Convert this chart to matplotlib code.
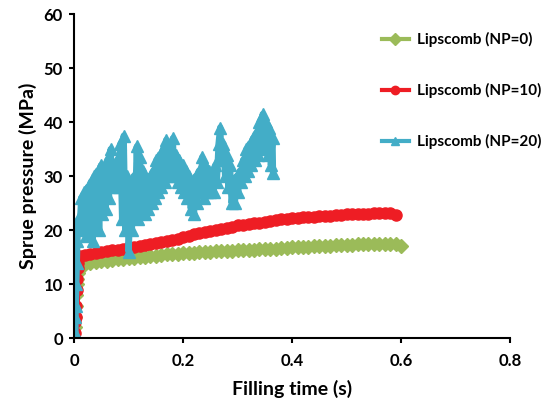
import matplotlib.pyplot as plt

# filling time (s) and sprue pressure (MPa)
t_np0 = [0, 0.001, 0.002, 0.003, 0.004, 0.005, 0.006, 0.007, 0.008, 0.009,
         0.01, 0.02, 0.03, 0.04, 0.05, 0.06, 0.07, 0.08, 0.09, 0.10,
         0.11, 0.12, 0.13, 0.14, 0.15, 0.16, 0.17, 0.18, 0.19, 0.20,
         0.21, 0.22, 0.23, 0.24, 0.25, 0.26, 0.27, 0.28, 0.29, 0.30,
         0.31, 0.32, 0.33, 0.34, 0.35, 0.36, 0.37, 0.38, 0.39, 0.40,
         0.41, 0.42, 0.43, 0.44, 0.45, 0.46, 0.47, 0.48, 0.49, 0.50,
         0.51, 0.52, 0.53, 0.54, 0.55, 0.56, 0.57, 0.58, 0.59, 0.60]
p_np0 = [0, 2, 4, 6, 8, 10, 11, 12, 12.5, 13,
         13.4, 13.7, 13.9, 14.1, 14.2, 14.3, 14.4, 14.6, 14.7, 14.8,
         14.9, 15.0, 15.1, 15.2, 15.3, 15.4, 15.5, 15.5, 15.6, 15.7,
         15.8, 15.8, 15.9, 16.0, 16.0, 16.1, 16.1, 16.2, 16.2, 16.3,
         16.3, 16.4, 16.4, 16.5, 16.5, 16.6, 16.6, 16.7, 16.7, 16.8,
         16.8, 16.9, 16.9, 17.0, 17.0, 17.1, 17.1, 17.2, 17.2, 17.3,
         17.3, 17.4, 17.4, 17.4, 17.5, 17.5, 17.5, 17.5, 17.4, 17.0]

t_np10 = [0, 0.001, 0.002, 0.003, 0.004, 0.005, 0.006, 0.007, 0.008, 0.009,
          0.01, 0.02, 0.03, 0.04, 0.05, 0.06, 0.07, 0.08, 0.09, 0.10,
          0.11, 0.12, 0.13, 0.14, 0.15, 0.16, 0.17, 0.18, 0.19, 0.20,
          0.21, 0.22, 0.23, 0.24, 0.25, 0.26, 0.27, 0.28, 0.29, 0.30,
          0.31, 0.32, 0.33, 0.34, 0.35, 0.36, 0.37, 0.38, 0.39, 0.40,
          0.41, 0.42, 0.43, 0.44, 0.45, 0.46, 0.47, 0.48, 0.49, 0.50,
          0.51, 0.52, 0.53, 0.54, 0.55, 0.56, 0.57, 0.58, 0.59]
p_np10 = [0, 3, 1, 4, 6, 9, 11, 13, 14, 15,
          15.3, 15.4, 15.6, 15.8, 16.0, 16.1, 16.3, 16.4, 16.6, 16.8,
          16.9, 17.1, 17.2, 17.4, 17.6, 17.8, 18.0, 18.2, 18.4, 18.7,
          18.9, 19.2, 19.4, 19.6, 19.8, 20.0, 20.2, 20.4, 20.6, 20.9,
          21.0, 21.1, 21.3, 21.4, 21.6, 21.7, 21.8, 22.0, 22.1, 22.2,
          22.3, 22.4, 22.4, 22.5, 22.6, 22.7, 22.7, 22.8, 22.8, 22.9,
          22.9, 23.0, 23.0, 23.0, 23.1, 23.1, 23.1, 23.1, 22.8]

t_np20 = [0, 0.001, 0.002, 0.003, 0.004, 0.005, 0.006, 0.008, 0.010, 0.013,
          0.016, 0.019, 0.022, 0.025, 0.028, 0.031, 0.034, 0.037, 0.040, 0.043,
          0.046, 0.049, 0.052, 0.055, 0.058, 0.061, 0.064, 0.067, 0.070, 0.073,
          0.076, 0.079, 0.082, 0.085, 0.088, 0.091, 0.094, 0.097, 0.100, 0.103,
          0.106, 0.109, 0.112, 0.115, 0.118, 0.121, 0.124, 0.127, 0.130, 0.133,
          0.136, 0.139, 0.142, 0.145, 0.148, 0.151, 0.154, 0.157, 0.160, 0.163,
          0.166, 0.169, 0.172, 0.175, 0.178, 0.181, 0.184, 0.187, 0.190, 0.193,
          0.196, 0.199, 0.202, 0.205, 0.208, 0.211, 0.214, 0.217, 0.220, 0.223,
          0.226, 0.229, 0.232, 0.235, 0.238, 0.241, 0.244, 0.247, 0.250, 0.253,
          0.256, 0.259, 0.262, 0.265, 0.268, 0.271, 0.274, 0.277, 0.280, 0.283,
          0.286, 0.289, 0.292, 0.295, 0.298, 0.301, 0.304, 0.307, 0.310, 0.313,
          0.316, 0.319, 0.322, 0.325, 0.328, 0.331, 0.334, 0.337, 0.340, 0.343,
          0.346, 0.349, 0.352, 0.355, 0.358, 0.361, 0.364, 0.365]
p_np20 = [0, 4, 1, 6, 10, 14, 18, 22, 20, 26,
          21, 27, 19, 28, 20, 29, 18, 30, 21, 31,
          20, 32, 23, 31, 24, 33, 26, 35, 28, 32,
          30, 33, 28, 36, 22, 37.5, 20, 30, 16, 24,
          20, 30, 24, 35.5, 22, 33.5, 24, 31, 23, 29,
          24, 30, 25, 31, 26, 33, 27, 34, 28, 35,
          29, 36.7, 30, 35, 31, 37, 30, 34, 29, 33,
          28, 32, 27, 31, 26, 30, 24, 29, 23, 30,
          25, 31, 27, 33.5, 26, 32, 27, 31, 27, 30,
          27, 32, 29, 36, 39, 33, 36, 30, 34, 28,
          32, 25, 28, 25, 30, 27, 31, 29, 33, 30,
          35, 31, 36, 32, 37, 33, 38, 34, 40, 35,
          41.5, 36, 40, 34, 39, 32, 37, 30.5]

labels = ['Lipscomb (NP=0)', 'Lipscomb (NP=10)', 'Lipscomb (NP=20)']
colors = ['#9BBB59', '#EE1D24', '#43ADC7']

plt.rcParams['font.family'] = ['Lato', 'DejaVu Sans']
plt.rcParams['font.weight'] = 'bold'

fig = plt.figure(figsize=(5.45, 4.04), dpi=100)
ax = fig.add_axes([0.136, 0.163, 0.800, 0.802])

ax.plot(t_np0, p_np0, color=colors[0], marker='D', ms=7, lw=5, label=labels[0])
ax.plot(t_np10, p_np10, color=colors[1], marker='o', ms=8, lw=5, label=labels[1])
ax.plot(t_np20, p_np20, color=colors[2], marker='^', ms=9, lw=4.5, label=labels[2])

ax.set_xlim(0, 0.8)
ax.set_ylim(0, 60)
ax.set_xticks([0, 0.2, 0.4, 0.6, 0.8])
ax.set_xticklabels(['0', '0.2', '0.4', '0.6', '0.8'])
ax.set_yticks(range(0, 61, 10))
ax.tick_params(labelsize=12, length=3.6, width=1.5, direction='out')
ax.tick_params(axis='x', pad=7)
ax.tick_params(axis='y', pad=4.5)
for lab in ax.get_xticklabels() + ax.get_yticklabels():
    lab.set_fontweight('bold')

for side in ['top', 'right']:
    ax.spines[side].set_visible(False)
for side in ['left', 'bottom']:
    ax.spines[side].set_linewidth(1.5)

ax.set_xlabel('Filling time (s)', fontsize=14, fontweight='bold', labelpad=8)
ax.set_ylabel('Sprue pressure (MPa)', fontsize=14, fontweight='bold', labelpad=5)

leg = fig.legend(loc='upper left', bbox_to_anchor=(0.675, 0.955), frameon=False,
                 labelspacing=2.35, handlelength=1.8, handletextpad=0.5,
                 prop={'weight': 'bold', 'size': 11})
for h in leg.legend_handles:
    h.set_markersize(6)
    h.set_linewidth(3)

fig.savefig('out.png', dpi=100)
